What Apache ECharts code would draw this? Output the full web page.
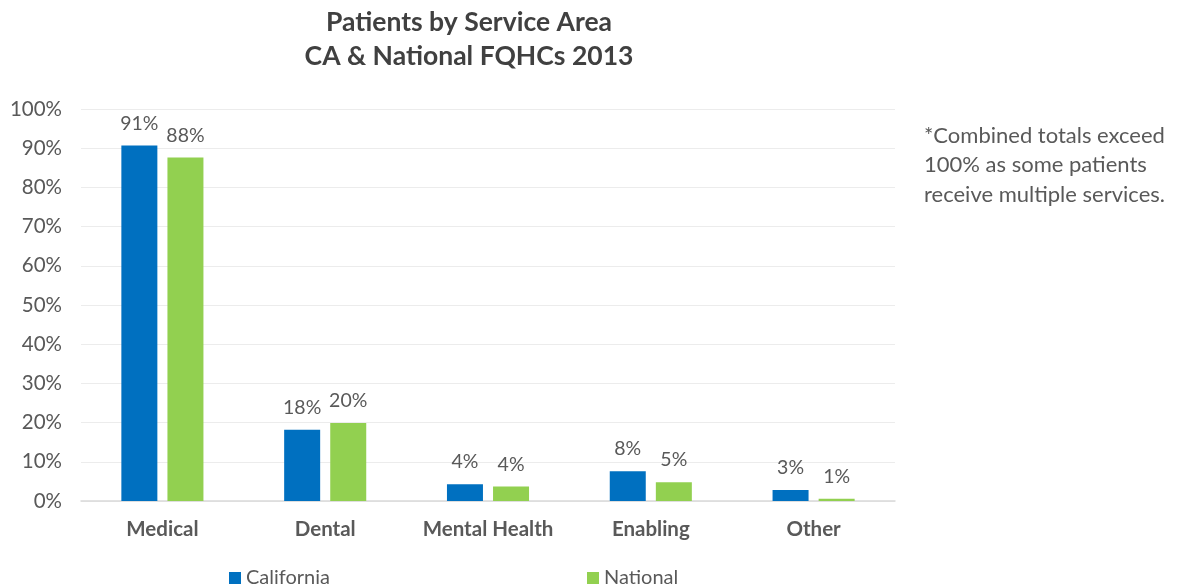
<!DOCTYPE html>
<html><head><meta charset="utf-8">
<script src="https://cdn.jsdelivr.net/npm/echarts@6/dist/echarts.min.js"></script>
<style>html,body{margin:0;padding:0;background:#fff}#c{width:1183px;height:585px}</style>
</head><body><div id="c"></div>
<script>
const categories = ['Medical', 'Dental', 'Mental Health', 'Enabling', 'Other'];
const california = [90.7, 18.2, 4.3, 7.6, 2.8];
const national = [87.6, 19.9, 3.7, 4.8, 0.6];
const seriesNames = ['California', 'National'];
const title = 'Patients by Service Area\nCA & National FQHCs 2013';
const note = '*Combined totals exceed\n100% as some patients\nreceive multiple services.';

const FONT = 'Lato, "Open Sans", sans-serif';
const chart = echarts.init(document.getElementById('c'));
const label = {
  show: true, position: 'top', distance: 12, color: '#595959', fontSize: 19.5, fontFamily: FONT,
  formatter: p => Math.round(p.value) + '%'
};
chart.setOption({
  animation: false,
  textStyle: { fontFamily: FONT },
  title: {
    text: title, left: 464, top: 0, textAlign: 'center',
    textStyle: { fontSize: 26.5, fontWeight: 'bold', color: '#404040', lineHeight: 34, fontFamily: FONT }
  },
  graphic: [{
    type: 'text', left: 924, top: 121,
    style: { text: note, fill: '#595959', fontSize: 22, lineHeight: 29.5, fontFamily: FONT }
  }],
  legend: [
    { data: [seriesNames[0]], left: 224, top: 563, itemWidth: 12, itemHeight: 12, icon: 'rect', itemGap: 6,
      textStyle: { fontSize: 20, color: '#595959', fontFamily: FONT } },
    { data: [seriesNames[1]], left: 582, top: 563, itemWidth: 12, itemHeight: 12, icon: 'rect',
      textStyle: { fontSize: 20, color: '#595959', fontFamily: FONT } }
  ],
  grid: { left: 81, right: 288, top: 109, bottom: 84 },
  xAxis: {
    type: 'category', data: categories,
    axisLine: { lineStyle: { color: '#d9d9d9', width: 1.5 } },
    axisTick: { show: false },
    axisLabel: { color: '#595959', fontSize: 20.5, fontWeight: 'bold', margin: 18, fontFamily: FONT, interval: 0 }
  },
  yAxis: {
    type: 'value', min: 0, max: 100, interval: 10,
    axisLine: { show: false }, axisTick: { show: false },
    splitLine: { lineStyle: { color: '#ececec' } },
    axisLabel: { color: '#595959', fontSize: 20.5, margin: 19, formatter: v => v + '%', fontFamily: FONT }
  },
  series: [
    { name: seriesNames[0], type: 'bar', data: california, barWidth: 36, barGap: '28%',
      itemStyle: { color: '#0070C0' }, label },
    { name: seriesNames[1], type: 'bar', data: national, barWidth: 36,
      itemStyle: { color: '#92D050' }, label }
  ]
});
</script></body></html>
